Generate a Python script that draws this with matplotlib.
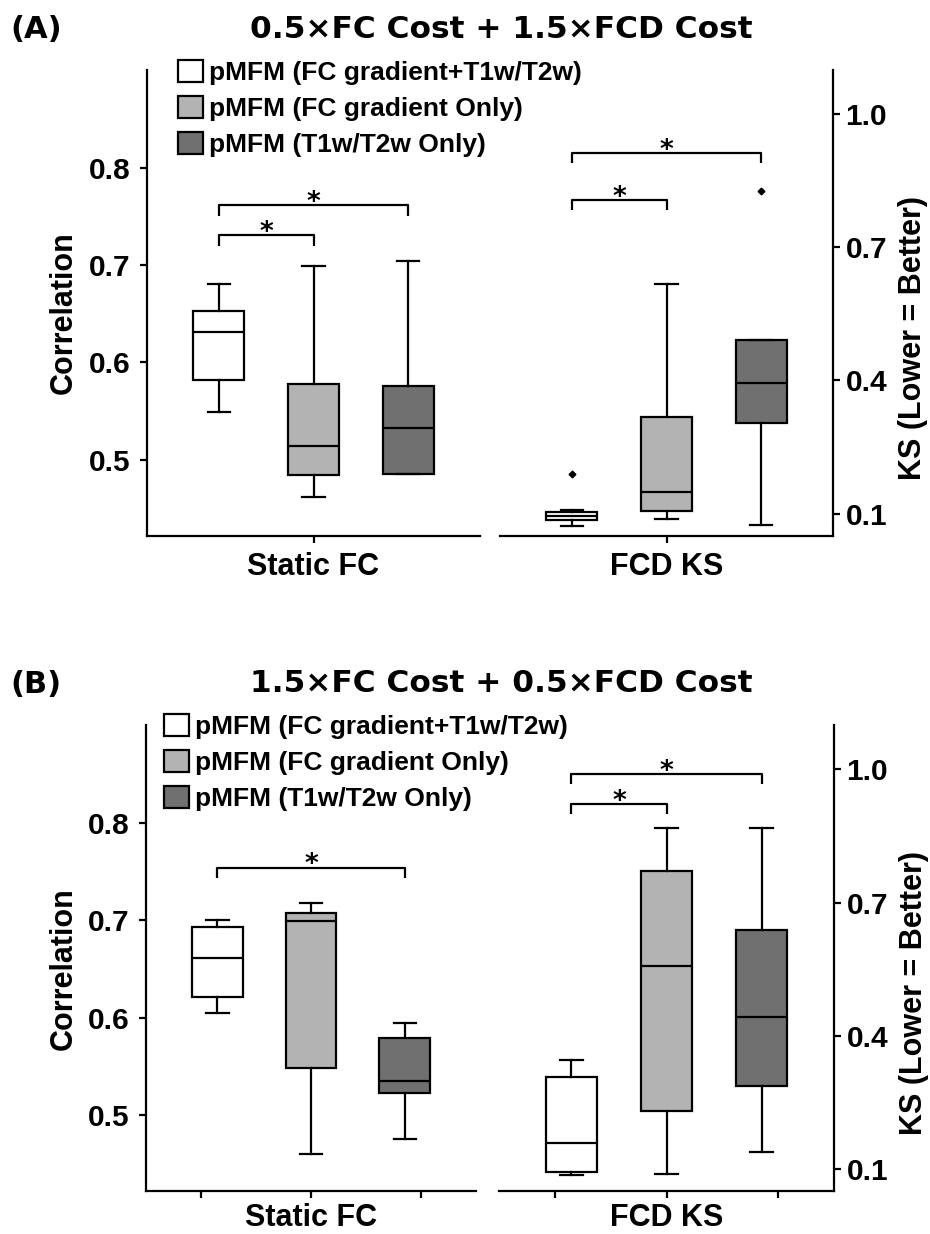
import matplotlib
matplotlib.use("Agg")
import matplotlib.pyplot as plt
from matplotlib.patches import Patch

# ---------------- data ----------------
SERIES = ["pMFM (FC gradient+T1w/T2w)", "pMFM (FC gradient Only)", "pMFM (T1w/T2w Only)"]
COLORS = ["#ffffff", "#b3b3b3", "#707070"]
GROUPS = ["Static FC", "FCD KS"]
TITLES = ["0.5\u00d7FC Cost + 1.5\u00d7FCD Cost", "1.5\u00d7FC Cost + 0.5\u00d7FCD Cost"]
TAGS = ["(A)", "(B)"]
FC_TICKS = [0.5, 0.6, 0.7, 0.8]
KS_TICKS = [0.1, 0.4, 0.7, 1.0]
FC_LABEL = "Correlation"
KS_LABEL = "KS (Lower = Better)"

# Panel A, Static FC (correlation)
A_FC_WHISLO = [0.549, 0.461, 0.485]
A_FC_Q1 = [0.582, 0.484, 0.485]
A_FC_MED = [0.631, 0.514, 0.532]
A_FC_Q3 = [0.653, 0.578, 0.576]
A_FC_WHISHI = [0.681, 0.699, 0.704]
A_FC_FLIERS = [[], [], []]
A_FC_SIG = [(1, 2, 0.7305), (1, 3, 0.7618)]

# Panel A, FCD KS
A_KS_WHISLO = [0.072, 0.088, 0.073]
A_KS_Q1 = [0.0855, 0.1056, 0.304]
A_KS_MED = [0.094, 0.148, 0.393]
A_KS_Q3 = [0.104, 0.318, 0.491]
A_KS_WHISHI = [0.108, 0.616, 0.491]
A_KS_FLIERS = [[0.190], [], [0.826]]
A_KS_SIG = [(1, 2, 0.8056), (1, 3, 0.912)]

# Panel B, Static FC (correlation)
B_FC_WHISLO = [0.605, 0.460, 0.475]
B_FC_Q1 = [0.621, 0.548, 0.522]
B_FC_MED = [0.661, 0.699, 0.535]
B_FC_Q3 = [0.693, 0.708, 0.579]
B_FC_WHISHI = [0.700, 0.718, 0.594]
B_FC_FLIERS = [[], [], []]
B_FC_SIG = [(1, 3, 0.7544)]

# Panel B, FCD KS
B_KS_WHISLO = [0.086, 0.0886, 0.1386]
B_KS_Q1 = [0.093, 0.2306, 0.2858]
B_KS_MED = [0.1587, 0.5575, 0.4418]
B_KS_Q3 = [0.306, 0.770, 0.639]
B_KS_WHISHI = [0.3445, 0.8686, 0.8686]
B_KS_FLIERS = [[], [], []]
B_KS_SIG = [(1, 2, 0.921), (1, 3, 0.9896)]

# ---------------- layout / style ----------------
W, H, DPI = 930, 1234, 100
POS = [1, 2, 3]
LW = 1.6
FONT_AR = "Liberation Sans"
FONT_DV = "DejaVu Sans"

fig = plt.figure(figsize=(W / DPI, H / DPI), dpi=DPI)


def px_rect(x0, y0, x1, y1):
    return [x0 / W, 1 - y1 / H, (x1 - x0) / W, (y1 - y0) / H]


def make_stats(whislo, q1, med, q3, whishi, fliers):
    return [dict(whislo=a, q1=b, med=c, q3=d, whishi=e, fliers=f)
            for a, b, c, d, e, f in zip(whislo, q1, med, q3, whishi, fliers)]


def draw_boxes(ax, stats):
    bp = ax.bxp(stats, positions=POS, widths=0.54, capwidths=0.24,
                patch_artist=True, showfliers=True,
                boxprops=dict(edgecolor="k", linewidth=LW),
                medianprops=dict(color="k", linewidth=LW),
                whiskerprops=dict(color="k", linewidth=LW),
                capprops=dict(color="k", linewidth=LW),
                flierprops=dict(marker="D", markersize=3.4, markerfacecolor="k",
                                markeredgecolor="k"))
    for patch, c in zip(bp["boxes"], COLORS):
        patch.set_facecolor(c)
    return bp


def draw_sig(ax, sig, drop):
    for x1, x2, y in sig:
        ax.plot([x1, x1, x2, x2], [y - drop, y, y, y - drop], color="k", lw=LW,
                solid_capstyle="butt", clip_on=False)
        ax.annotate("*", xy=((x1 + x2) / 2, y), xytext=(0, -3.5),
                    textcoords="offset points", ha="center", va="baseline",
                    fontsize=19, fontweight="bold", family=FONT_DV)


def style_axis(ax, side, xticks, xlabels, xpad):
    ax.set_xlim(0.24, 3.76)
    for s in ["top", "left", "right"]:
        ax.spines[s].set_visible(False)
    ax.spines[side].set_visible(True)
    for s in ["bottom", side]:
        ax.spines[s].set_linewidth(LW)
    ax.set_xticks(xticks)
    ax.set_xticklabels(xlabels, fontsize=22, fontweight="bold", family=FONT_AR)
    ax.tick_params(axis="x", direction="out", length=5, width=LW, pad=xpad)
    ax.tick_params(axis="y", direction="out", length=5, width=LW)
    ax.patch.set_alpha(0)


panels = [
    dict(rows=(69.6, 535.7), lx=(147, 480), rx=(500, 833),
         fc=make_stats(A_FC_WHISLO, A_FC_Q1, A_FC_MED, A_FC_Q3, A_FC_WHISHI, A_FC_FLIERS),
         ks=make_stats(A_KS_WHISLO, A_KS_Q1, A_KS_MED, A_KS_Q3, A_KS_WHISHI, A_KS_FLIERS),
         fcsig=A_FC_SIG, kssig=A_KS_SIG, xticks=[2], title_y=37.5, leg=(178, 60),
         xpad=7),
    dict(rows=(725, 1191), lx=(146, 476), rx=(499, 834),
         fc=make_stats(B_FC_WHISLO, B_FC_Q1, B_FC_MED, B_FC_Q3, B_FC_WHISHI, B_FC_FLIERS),
         ks=make_stats(B_KS_WHISLO, B_KS_Q1, B_KS_MED, B_KS_Q3, B_KS_WHISHI, B_KS_FLIERS),
         fcsig=B_FC_SIG, kssig=B_KS_SIG, xticks=[0.83, 2, 3.17], title_y=692,
         leg=(164, 714), xpad=4),
]

for i, p in enumerate(panels):
    y0, y1 = p["rows"]
    axL = fig.add_axes(px_rect(p["lx"][0], y0, p["lx"][1], y1))
    axR = fig.add_axes(px_rect(p["rx"][0], y0, p["rx"][1], y1))

    draw_boxes(axL, p["fc"])
    draw_boxes(axR, p["ks"])

    labsL = ["" if t != 2 else GROUPS[0] for t in p["xticks"]]
    labsR = ["" if t != 2 else GROUPS[1] for t in p["xticks"]]
    style_axis(axL, "left", p["xticks"], labsL, p["xpad"])
    style_axis(axR, "right", p["xticks"], labsR, p["xpad"])

    axL.set_ylim(0.4217, 0.901)
    axL.set_yticks(FC_TICKS)
    axL.set_yticklabels([f"{t:.1f}" for t in FC_TICKS], fontsize=21.5,
                        fontweight="bold", family=FONT_AR)
    axL.tick_params(axis="y", pad=7)
    axL.set_ylabel(FC_LABEL, fontsize=22, fontweight="bold", family=FONT_AR,
                   ha="center", va="center")
    axL.yaxis.set_label_coords(-0.249, 0.478)

    axR.set_ylim(0.05, 1.10)
    axR.yaxis.tick_right()
    axR.yaxis.set_label_position("right")
    axR.set_yticks(KS_TICKS)
    axR.set_yticklabels([f"{t:.1f}" for t in KS_TICKS], fontsize=21.5,
                        fontweight="bold", family=FONT_AR)
    axR.tick_params(axis="y", pad=4)
    axR.set_ylabel(KS_LABEL, fontsize=22, fontweight="bold", family=FONT_AR,
                   ha="center", va="center", rotation=90)
    axR.yaxis.set_label_coords(1.240, 0.424)

    draw_sig(axL, p["fcsig"], 0.011)
    draw_sig(axR, p["kssig"], 0.022)

    fig.text(501 / W, 1 - p["title_y"] / H, TITLES[i], ha="center", va="baseline",
             fontsize=22.5, fontweight="bold", family=FONT_DV)
    fig.text(10 / W, 1 - (p["title_y"] + 1) / H, TAGS[i], ha="left", va="baseline",
             fontsize=22, fontweight="bold", family=FONT_DV)

    handles = [Patch(facecolor=c, edgecolor="k", linewidth=LW) for c in COLORS]
    axL.legend(handles, SERIES, loc="upper left",
               bbox_to_anchor=(p["leg"][0] / W, 1 - p["leg"][1] / H),
               bbox_transform=fig.transFigure, frameon=False, borderpad=0,
               borderaxespad=0, handlelength=0.95, handleheight=0.92,
               handletextpad=0.22, labelspacing=0.41,
               prop=dict(family=FONT_AR, weight="bold", size=19))

fig.savefig("out.png", dpi=DPI)
